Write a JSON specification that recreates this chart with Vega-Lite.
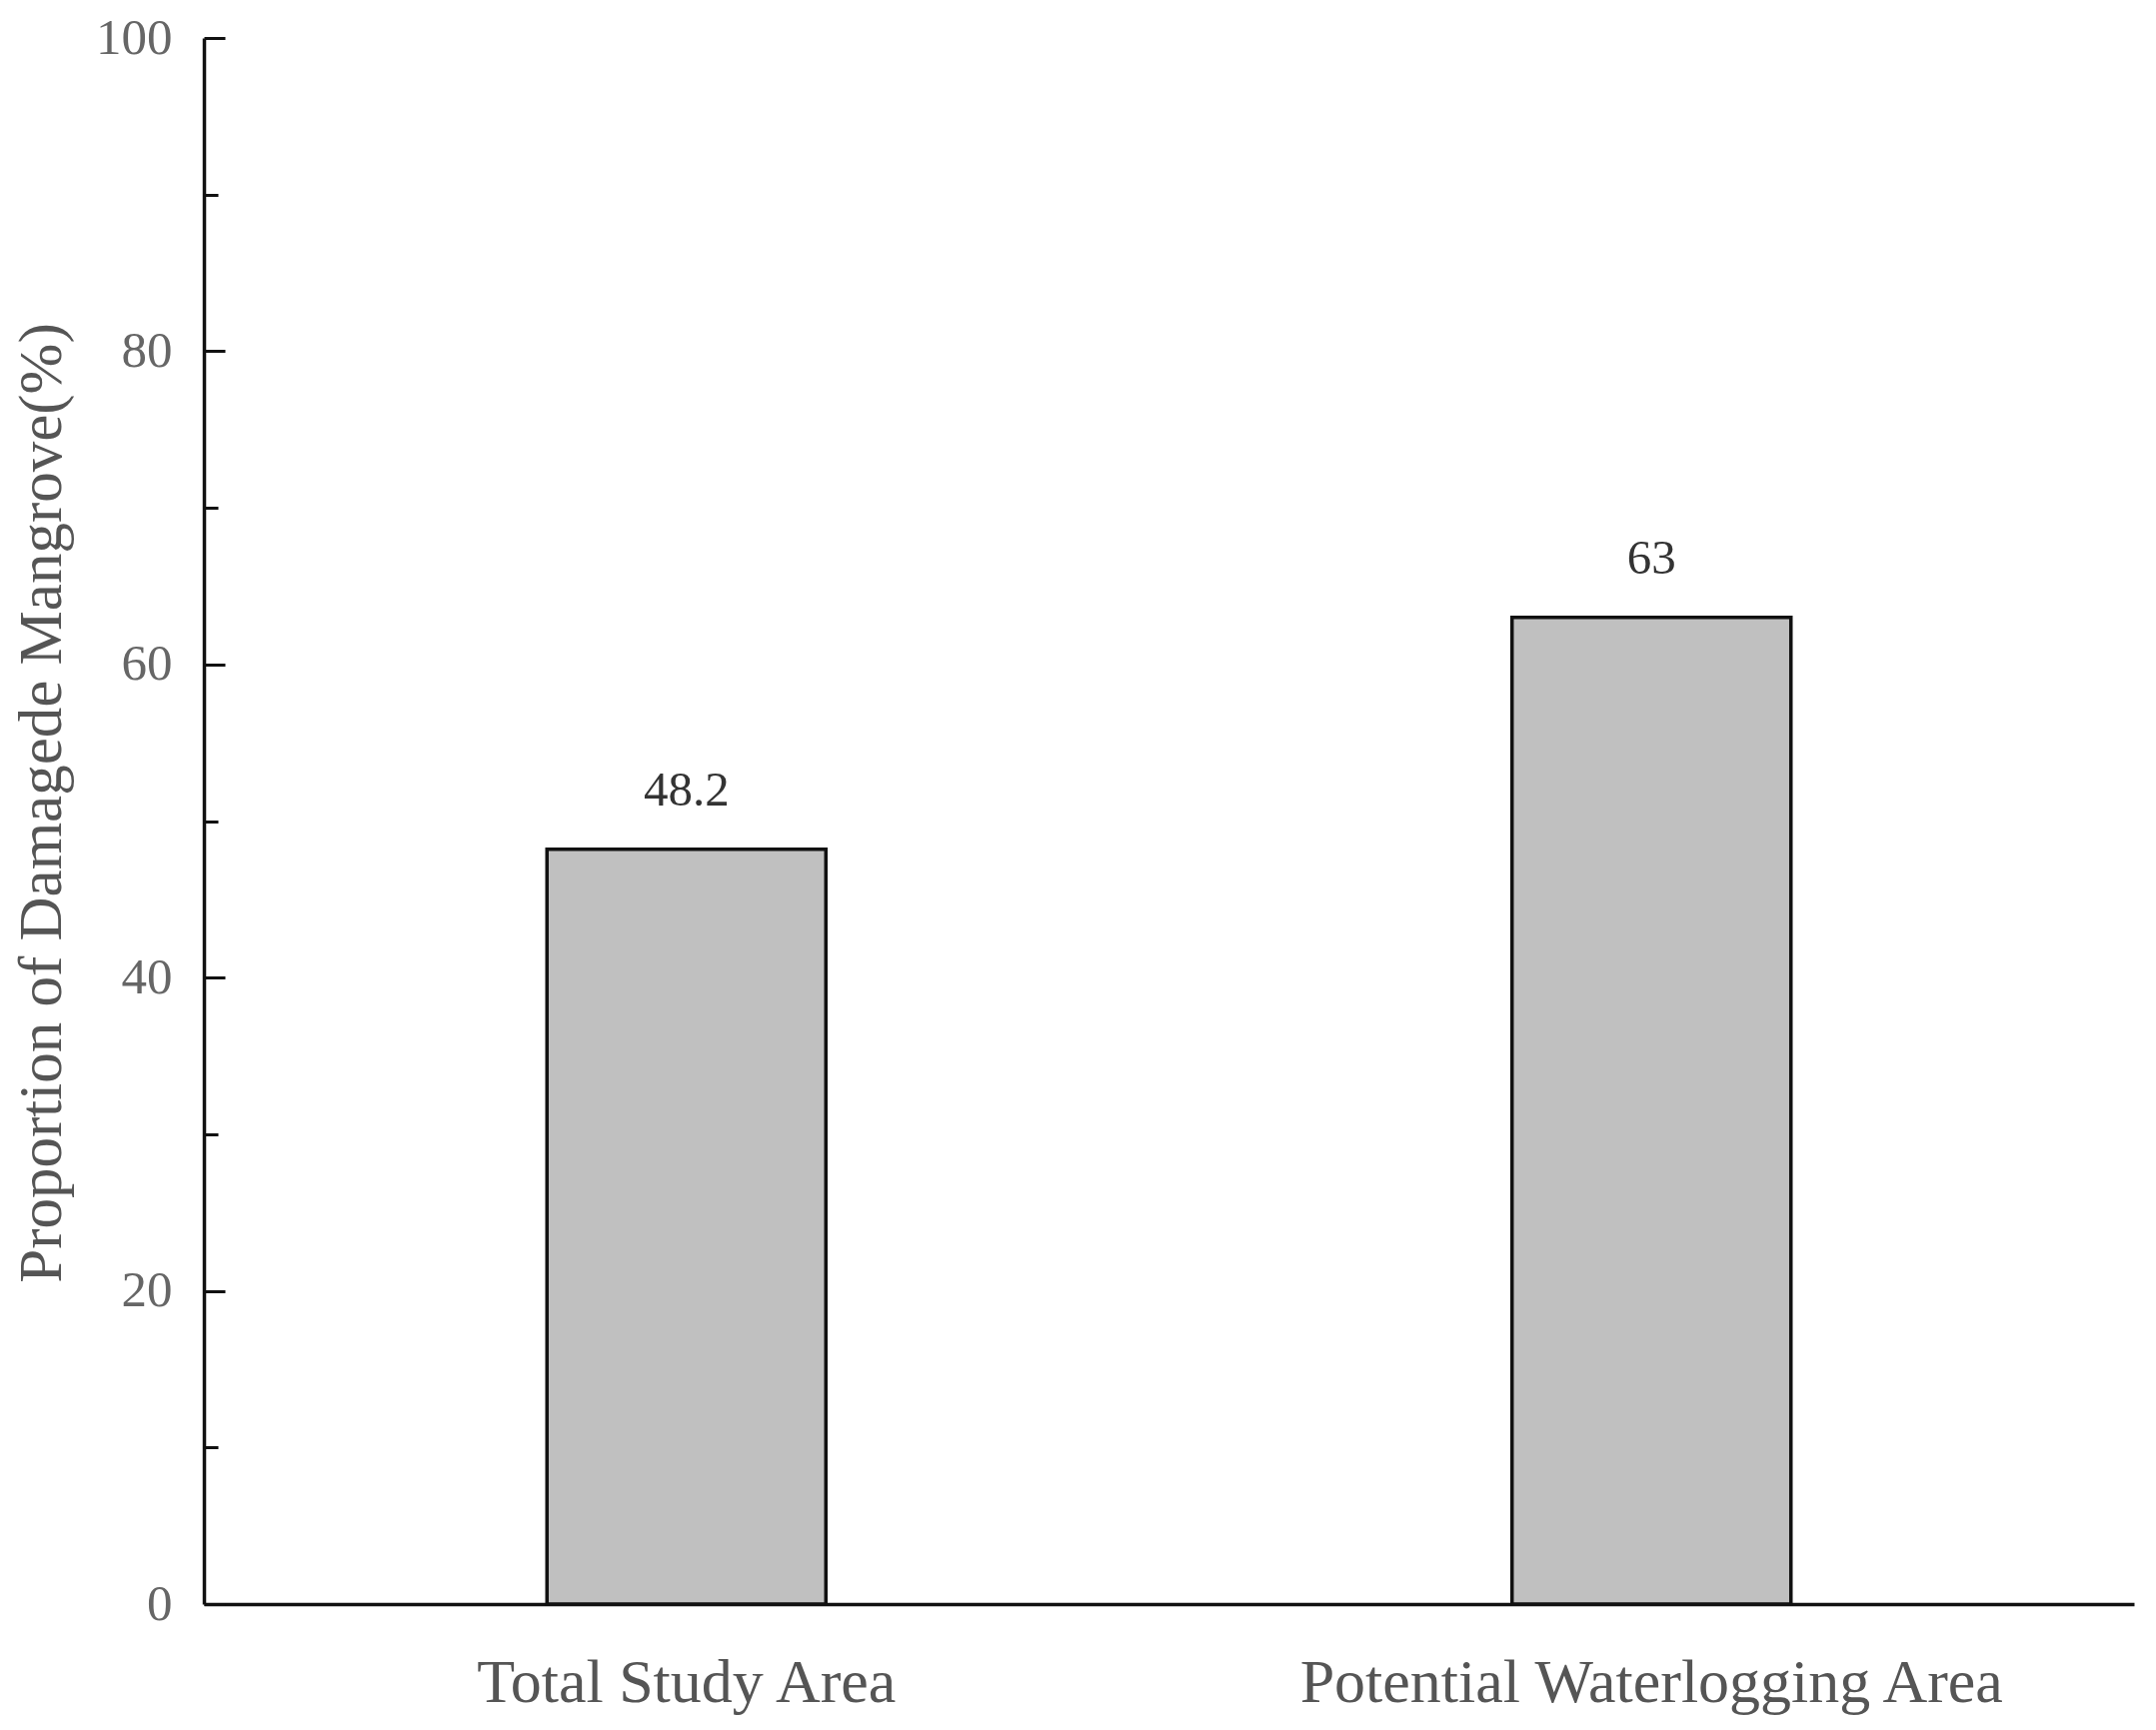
{
  "$schema": "https://vega.github.io/schema/vega-lite/v6.json",
  "width": 1931,
  "height": 1567,
  "autosize": {"type": "none"},
  "padding": {"left": 204, "top": 38, "right": 22, "bottom": 126},
  "background": "white",
  "data": {
    "values": [
      {"area": "Total Study Area", "value": 48.2, "label": "48.2"},
      {"area": "Potential Waterlogging Area", "value": 63, "label": "63"}
    ]
  },
  "encoding": {
    "x": {
      "field": "area",
      "type": "nominal",
      "sort": null,
      "scale": {"paddingInner": 0.711, "paddingOuter": 0.3555},
      "axis": {
        "title": null,
        "labelAngle": 0,
        "labelLimit": 0,
        "bandPosition": 0.5,
        "domainColor": "#111",
        "domainWidth": 3.5,
        "tickColor": "#111",
        "tickWidth": 3,
        "tickSize": -15,
        "labelFont": "Liberation Serif",
        "labelFontSize": 62,
        "labelColor": "#555",
        "labelBaseline": "top",
        "labelPadding": 63,
        "grid": false
      }
    },
    "y": {
      "field": "value",
      "type": "quantitative",
      "scale": {"domain": [0, 100], "nice": false},
      "axis": {
        "values": [0, 10, 20, 30, 40, 50, 60, 70, 80, 90, 100],
        "labelExpr": "datum.value % 20 === 0 ? datum.label : ''",
        "tickSize": {"condition": {"test": "datum.value % 20 === 0", "value": -21}, "value": -14},
        "tickColor": "#111",
        "tickWidth": 3,
        "domainColor": "#111",
        "domainWidth": 3.5,
        "grid": false,
        "labelFont": "Liberation Serif",
        "labelFontSize": 51,
        "labelColor": "#666",
        "labelPadding": 53,
        "title": "Proportion of Damagede Mangrove(%)",
        "titleFont": "Liberation Serif",
        "titleFontSize": 61,
        "titleFontWeight": "normal",
        "titleColor": "#555",
        "titleAngle": -90,
        "titleX": -162,
        "titleY": 765,
        "titleAlign": "center",
        "titleBaseline": "middle"
      }
    }
  },
  "layer": [
    {"mark": {"type": "bar", "fill": "#c0c0c0", "stroke": "#111", "strokeWidth": 3.5}},
    {
      "mark": {"type": "text", "dy": -44, "baseline": "alphabetic", "fontSize": 49, "font": "Liberation Serif", "color": "#333"},
      "encoding": {"text": {"field": "label"}}
    }
  ],
  "config": {"view": {"stroke": null}}
}
